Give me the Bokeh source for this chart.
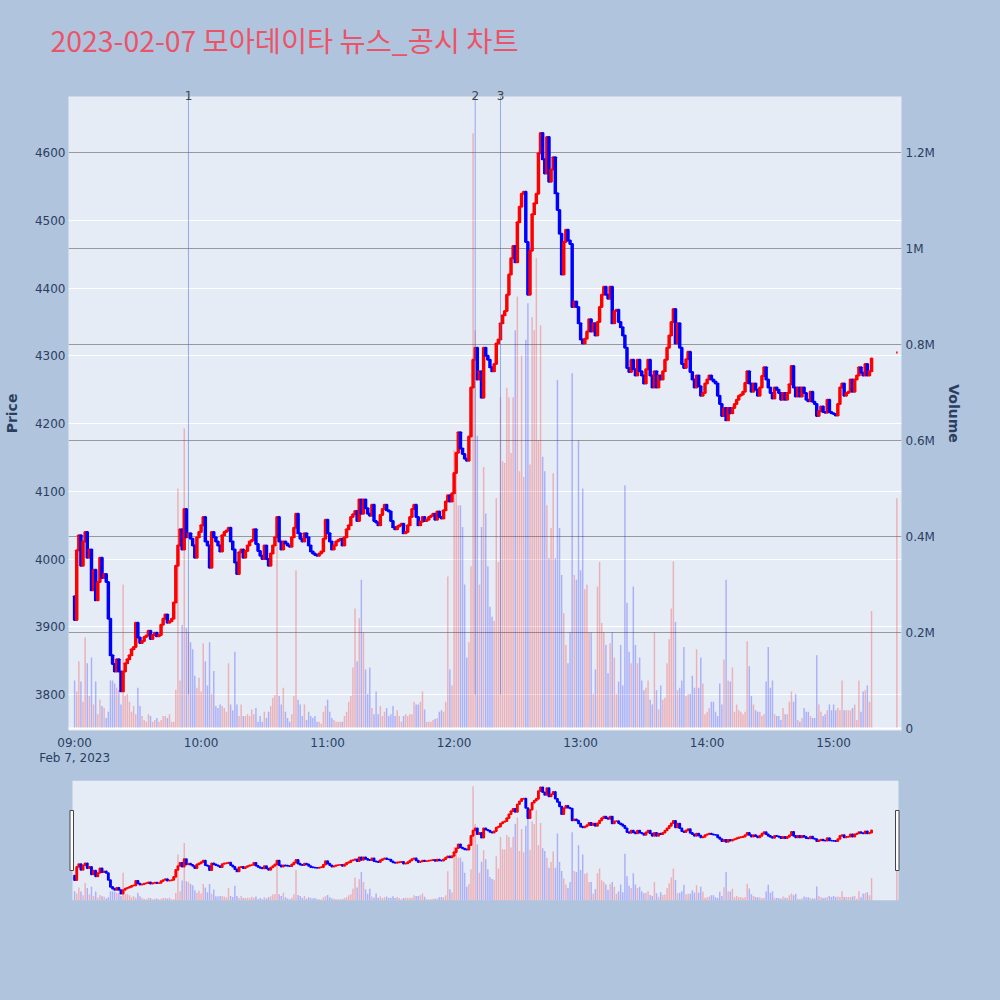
import pandas as pd
from bokeh.plotting import figure
from bokeh.models import (Range1d, LinearAxis, FixedTicker, Grid, Span,
                          ColumnDataSource, DatetimeTickFormatter)
from bokeh.layouts import column
from bokeh.embed import file_html
from bokeh.resources import INLINE

# ---------------- data ----------------
title_text = "2023-02-07 모아데이타 뉴스_공시 차트"
session_start = "2023-02-07 09:00"
first_open = 3945
# 1-minute closes, 09:00 .. 15:18
close = [
    3910, 4013, 4035, 3990, 4026, 4040, 4002, 4014, 3954, 3984,
    3939, 3966, 4002, 3972, 3978, 3966, 3912, 3858, 3845, 3834,
    3852, 3834, 3805, 3834, 3846, 3852, 3858, 3867, 3870, 3906,
    3884, 3876, 3879, 3885, 3887, 3894, 3882, 3888, 3891, 3886,
    3888, 3903, 3912, 3918, 3906, 3908, 3912, 3936, 3990, 4020,
    4044, 4014, 4074, 4032, 4038, 4030, 4020, 4002, 4032, 4040,
    4050, 4062, 4026, 4020, 3987, 4040, 4032, 4026, 4020, 4011,
    4035, 4040, 4042, 4046, 4026, 4014, 3995, 3978, 4010, 4014,
    4002, 4012, 4020, 4026, 4028, 4044, 4022, 4012, 4005, 4000,
    4020, 4000, 3990, 4008, 4020, 4032, 4062, 4026, 4014, 4026,
    4023, 4020, 4018, 4032, 4046, 4067, 4038, 4030, 4026, 4038,
    4032, 4020, 4011, 4008, 4006, 4005, 4008, 4011, 4030, 4058,
    4038, 4026, 4014, 4020, 4026, 4028, 4030, 4020, 4032, 4044,
    4050, 4062, 4066, 4071, 4056, 4088, 4067, 4088, 4075, 4067,
    4064, 4080, 4056, 4054, 4050, 4065, 4074, 4080, 4072, 4070,
    4056, 4047, 4044, 4048, 4050, 4052, 4038, 4040, 4050, 4062,
    4074, 4080, 4062, 4050, 4055, 4062, 4056, 4058, 4062, 4064,
    4067, 4058, 4070, 4062, 4060, 4072, 4085, 4094, 4085, 4097,
    4127, 4157, 4187, 4163, 4155, 4148, 4145, 4181, 4253, 4294,
    4312, 4265, 4277, 4238, 4312, 4300, 4294, 4283, 4277, 4288,
    4318, 4324, 4348, 4360, 4366, 4390, 4420, 4444, 4462, 4438,
    4497, 4520, 4539, 4542, 4468, 4390, 4455, 4509, 4525, 4539,
    4599, 4629, 4590, 4569, 4623, 4557, 4575, 4593, 4540, 4515,
    4480, 4420, 4468, 4486, 4470, 4465, 4372, 4380, 4372, 4348,
    4324, 4318, 4325, 4336, 4354, 4336, 4348, 4330, 4350, 4372,
    4390, 4402, 4390, 4384, 4402, 4348, 4366, 4368, 4350, 4342,
    4330, 4312, 4282, 4276, 4294, 4280, 4271, 4294, 4277, 4271,
    4259, 4280, 4294, 4271, 4253, 4277, 4253, 4271, 4265, 4277,
    4294, 4312, 4330, 4350, 4369, 4318, 4348, 4312, 4288, 4282,
    4295, 4306, 4276, 4265, 4253, 4271, 4255, 4241, 4245, 4259,
    4265, 4271, 4265, 4262, 4259, 4241, 4229, 4211, 4223, 4205,
    4223, 4215, 4223, 4229, 4235, 4241, 4243, 4247, 4260, 4277,
    4259, 4247, 4259, 4250, 4241, 4253, 4270, 4283, 4265, 4253,
    4245, 4237, 4253, 4250, 4245, 4235, 4245, 4235, 4245, 4258,
    4285, 4253, 4240, 4253, 4240, 4253, 4245, 4235, 4233, 4247,
    4232, 4229, 4211, 4218, 4225, 4217, 4216, 4235, 4217, 4215,
    4214, 4212, 4229, 4253, 4259, 4241, 4245, 4247, 4265, 4247,
    4265, 4271, 4283, 4275, 4271, 4288, 4271, 4277, 4296,
]
# 1-minute volumes in millions of shares
volume_m = [
    0.10, 0.077, 0.14, 0.098, 0.056, 0.19, 0.136, 0.068, 0.148, 0.05,
    0.098, 0.03, 0.06, 0.047, 0.043, 0.022, 0.035, 0.10, 0.10, 0.094,
    0.085, 0.08, 0.05, 0.30, 0.068, 0.072, 0.056, 0.035, 0.047, 0.03,
    0.085, 0.047, 0.026, 0.018, 0.014, 0.03, 0.026, 0.014, 0.018, 0.022,
    0.014, 0.018, 0.026, 0.026, 0.022, 0.03, 0.014, 0.014, 0.081, 0.50,
    0.10, 0.216, 0.625, 0.21, 0.20, 0.18, 0.165, 0.11, 0.085, 0.106,
    0.077, 0.178, 0.14, 0.09, 0.18, 0.072, 0.12, 0.047, 0.043, 0.05,
    0.047, 0.043, 0.035, 0.136, 0.05, 0.038, 0.16, 0.05, 0.026, 0.05,
    0.026, 0.026, 0.03, 0.026, 0.04, 0.03, 0.043, 0.014, 0.026, 0.014,
    0.035, 0.022, 0.035, 0.047, 0.064, 0.07, 0.44, 0.068, 0.05, 0.085,
    0.035, 0.022, 0.014, 0.03, 0.068, 0.33, 0.06, 0.05, 0.026, 0.05,
    0.018, 0.035, 0.026, 0.022, 0.026, 0.014, 0.014, 0.01, 0.035, 0.047,
    0.06, 0.035, 0.022, 0.018, 0.014, 0.014, 0.014, 0.014, 0.026, 0.035,
    0.056, 0.068, 0.127, 0.25, 0.14, 0.23, 0.31, 0.2, 0.123, 0.072,
    0.127, 0.043, 0.03, 0.077, 0.03, 0.047, 0.026, 0.035, 0.043, 0.026,
    0.03, 0.047, 0.026, 0.038, 0.026, 0.014, 0.026, 0.03, 0.026, 0.03,
    0.03, 0.056, 0.05, 0.05, 0.056, 0.077, 0.04, 0.014, 0.014, 0.014,
    0.018, 0.02, 0.022, 0.035, 0.038, 0.035, 0.056, 0.317, 0.123, 0.09,
    0.58, 0.574, 0.465, 0.465, 0.42, 0.30, 0.148, 0.18, 0.338, 1.24,
    0.83, 0.61, 0.30, 0.42, 0.545, 0.448, 0.338, 0.254, 0.233, 0.224,
    0.48, 0.347, 0.69, 0.557, 0.553, 0.71, 0.69, 0.574, 0.69, 0.83,
    0.90, 0.536, 0.777, 0.524, 0.81, 0.886, 0.55, 0.857, 0.83, 0.98,
    0.6, 0.84, 0.566, 0.536, 0.465, 0.355, 0.418, 0.532, 0.355, 0.726,
    0.418, 0.32, 0.24, 0.174, 0.136, 0.2, 0.74, 0.32, 0.31, 0.60,
    0.33, 0.50, 0.29, 0.30, 0.20, 0.2, 0.072, 0.123, 0.296, 0.347,
    0.22, 0.2, 0.174, 0.115, 0.178, 0.2, 0.148, 0.072, 0.098, 0.174,
    0.09, 0.507, 0.262, 0.16, 0.136, 0.296, 0.174, 0.136, 0.148, 0.10,
    0.08, 0.085, 0.10, 0.06, 0.05, 0.20, 0.08, 0.04, 0.09, 0.06,
    0.064, 0.136, 0.186, 0.25, 0.348, 0.222, 0.08, 0.085, 0.10, 0.17,
    0.068, 0.072, 0.072, 0.11, 0.085, 0.165, 0.085, 0.148, 0.094, 0.03,
    0.035, 0.043, 0.056, 0.056, 0.035, 0.026, 0.094, 0.05, 0.144, 0.31,
    0.10, 0.098, 0.127, 0.035, 0.05, 0.038, 0.035, 0.03, 0.035, 0.182,
    0.13, 0.068, 0.05, 0.038, 0.035, 0.035, 0.026, 0.03, 0.098, 0.17,
    0.085, 0.10, 0.03, 0.026, 0.026, 0.018, 0.043, 0.03, 0.03, 0.056,
    0.077, 0.056, 0.072, 0.018, 0.014, 0.022, 0.043, 0.035, 0.035, 0.026,
    0.022, 0.022, 0.153, 0.05, 0.035, 0.026, 0.03, 0.038, 0.05, 0.038,
    0.05, 0.038, 0.043, 0.038, 0.10, 0.038, 0.038, 0.038, 0.038, 0.043,
    0.05, 0.018, 0.10, 0.035, 0.077, 0.08, 0.09, 0.056, 0.245,
]
# closing auction
auction_time = "2023-02-07 15:30"
auction_price = 4305
auction_volume_m = 0.48
# news / disclosure markers
news_times = ["2023-02-07 09:54", "2023-02-07 12:10", "2023-02-07 12:22"]
news_labels = ["1", "2", "3"]

price_ticks = [3800, 3900, 4000, 4100, 4200, 4300, 4400, 4500, 4600]
vol_ticks = [0, 200000, 400000, 600000, 800000, 1000000, 1200000]
vol_tick_labels = ["0", "0.2M", "0.4M", "0.6M", "0.8M", "1M", "1.2M"]
hour_ticks = ["2023-02-07 09:00", "2023-02-07 10:00", "2023-02-07 11:00",
              "2023-02-07 12:00", "2023-02-07 13:00", "2023-02-07 14:00",
              "2023-02-07 15:00"]
date_label = "Feb 7, 2023"

# ---------------- build ----------------
UP, DOWN = "#FF0000", "#0000FF"
BG_OUT, BG_IN = "#B0C4DE", "#E5ECF6"
TXT = "#2a3f5f"
FONT = "DejaVu Sans"


def ms(t):
    return pd.Timestamp(t).value / 1e6


MIN = 60000.0
t0 = ms(session_start)
times = [t0 + i * MIN for i in range(len(close))] + [ms(auction_time)]
closes = close + [auction_price]
opens = [first_open] + close[:-1] + [auction_price]
vols = [v * 1e6 for v in volume_m] + [auction_volume_m * 1e6]
colors = [UP if c >= o else DOWN for o, c in zip(opens, closes)]
src = ColumnDataSource(dict(
    t=times,
    top=[max(o, c) for o, c in zip(opens, closes)],
    bottom=[min(o, c) for o, c in zip(opens, closes)],
    vol=vols, color=colors))

PRICE_LO, PRICE_HI = 3746.9, 4682.7
VOL_HI = 1316700
X_LO, X_HI = -2.9, 392.2           # minutes from 09:00
BL, BR = 68, 99                    # left / right borders of every strip


def style_axis(ax, size="12px"):
    ax.axis_line_color = None
    ax.major_tick_line_color = None
    ax.minor_tick_line_color = None
    ax.major_tick_out = 0
    ax.major_tick_in = 0
    ax.minor_tick_out = 0
    ax.minor_tick_in = 0
    ax.major_label_text_font = FONT
    ax.major_label_text_font_size = size
    ax.major_label_text_color = TXT
    ax.axis_label_text_font = FONT
    ax.axis_label_text_font_size = "14px"
    ax.axis_label_text_font_style = "bold"
    ax.axis_label_text_color = TXT


# ---------------- title strip ----------------
tf = figure(width=1000, height=76, x_range=Range1d(0, 1), y_range=Range1d(0, 1),
            output_backend="svg", toolbar_location=None,
            min_border_left=BL, min_border_right=BR, min_border_top=0,
            min_border_bottom=0, x_axis_location=None, y_axis_location=None)
tf.background_fill_color = BG_OUT
tf.border_fill_color = BG_OUT
tf.outline_line_color = None
tf.grid.visible = False
tf.title.text = title_text
tf.title.text_font = "Noto Sans CJK KR"
tf.title.text_font_size = "28.4px"
tf.title.text_font_style = "normal"
tf.title.text_color = "#EB5468"
tf.title.align = "left"
tf.title.vertical_align = "bottom"
tf.title.offset = -18
tf.title.standoff = 32

# ---------------- main chart ----------------
p = figure(width=1000, height=694, x_axis_type="datetime",
           x_range=Range1d(t0 + X_LO * MIN, t0 + X_HI * MIN),
           y_range=Range1d(PRICE_LO, PRICE_HI),
           output_backend="svg", toolbar_location=None,
           min_border_left=BL, min_border_right=BR,
           min_border_top=20, min_border_bottom=40)
p.extra_y_ranges = {"vol": Range1d(-4000, VOL_HI)}
p.background_fill_color = BG_IN
p.border_fill_color = BG_OUT
p.outline_line_color = None

# grids
p.xgrid.grid_line_color = None
p.ygrid.ticker = FixedTicker(ticks=price_ticks)
p.ygrid.grid_line_color = "white"
p.ygrid.grid_line_width = 1
vgrid = Grid(dimension=1, ticker=FixedTicker(ticks=vol_ticks[1:]),
             y_range_name="vol", grid_line_color="#999999", grid_line_width=1)
p.add_layout(vgrid)
p.add_layout(Span(location=0, dimension="width", y_range_name="vol",
                  line_color="white", line_width=2))

# axes
ya = p.yaxis[0]
ya.ticker = FixedTicker(ticks=price_ticks)
ya.axis_label = "Price"
xa = p.xaxis[0]
xa.ticker = FixedTicker(ticks=[ms(h) for h in hour_ticks])
xa.formatter = DatetimeTickFormatter(hours="%H:%M", hourmin="%H:%M",
                                     minutes="%H:%M", days="%H:%M")
va = LinearAxis(y_range_name="vol", ticker=FixedTicker(ticks=vol_ticks),
                major_label_overrides=dict(zip(vol_ticks, vol_tick_labels)),
                axis_label="Volume")
p.add_layout(va, "right")
da = LinearAxis(ticker=FixedTicker(ticks=[t0]),
                major_label_overrides={t0: date_label})
p.add_layout(da, "below")
nt = [ms(t) for t in news_times]
na = LinearAxis(ticker=FixedTicker(ticks=nt),
                major_label_overrides=dict(zip(nt, news_labels)))
p.add_layout(na, "above")
for ax in (ya, xa, va, da, na):
    style_axis(ax)
na.major_label_text_color = "#444444"
ya.major_label_standoff = 3
ya.axis_label_standoff = 12
va.major_label_standoff = 4
va.axis_label_standoff = 8
xa.major_label_standoff = 5
da.major_label_standoff = -2
na.major_label_standoff = -3

# candles and volume
p.vbar(x="t", width=0.7 * MIN, top="top", bottom="bottom",
       fill_color="color", line_color="color", line_width=2, source=src)
p.vbar(x="t", width=0.7 * MIN, top="vol", bottom=0, y_range_name="vol",
       fill_color="color", fill_alpha=0.25, line_color=None, source=src)

# news markers
p.segment(x0=nt, x1=nt, y0=[3800] * len(nt), y1=[PRICE_HI] * len(nt),
          line_color="royalblue", line_alpha=0.5, line_width=1)

# ---------------- range slider ----------------
PXM = 833 / (X_HI - X_LO)          # pixels per minute
s = figure(width=1000, height=230, x_axis_type="datetime",
           x_range=Range1d(t0 + X_LO * MIN, t0 + X_HI * MIN),
           y_range=Range1d(3753, 4681),
           output_backend="svg", toolbar_location=None,
           min_border_left=BL, min_border_right=BR,
           min_border_top=10, min_border_bottom=100,
           x_axis_location=None, y_axis_location=None)
s.extra_y_ranges = {"vol": Range1d(0, 1302000)}
s.background_fill_color = BG_OUT
s.border_fill_color = BG_OUT
s.outline_line_color = None
s.grid.visible = False
s.quad(left=[t0 + (X_LO + 4 / PXM) * MIN], right=[t0 + (X_LO + 830 / PXM) * MIN],
       bottom=[3753], top=[4681], fill_color=BG_IN, line_color=None)
s.vbar(x="t", width=0.6 * MIN, top="top", bottom="bottom",
       fill_color="color", line_color="color", line_width=1.6, source=src)
s.vbar(x="t", width=0.7 * MIN, top="vol", bottom=0, y_range_name="vol",
       fill_color="color", fill_alpha=0.25, line_color=None, source=src)
s.quad(left=[t0 + (X_LO + 1.5 / PXM) * MIN, t0 + (X_LO + 827 / PXM) * MIN],
       right=[t0 + (X_LO + 5 / PXM) * MIN, t0 + (X_LO + 830.5 / PXM) * MIN],
       bottom=[3985, 3985], top=[4449, 4449],
       fill_color="white", line_color="#444444", line_width=1)

layout = column(tf, p, s, spacing=0, styles={"background-color": BG_OUT})
open("out.html", "w").write(file_html(layout, INLINE))
